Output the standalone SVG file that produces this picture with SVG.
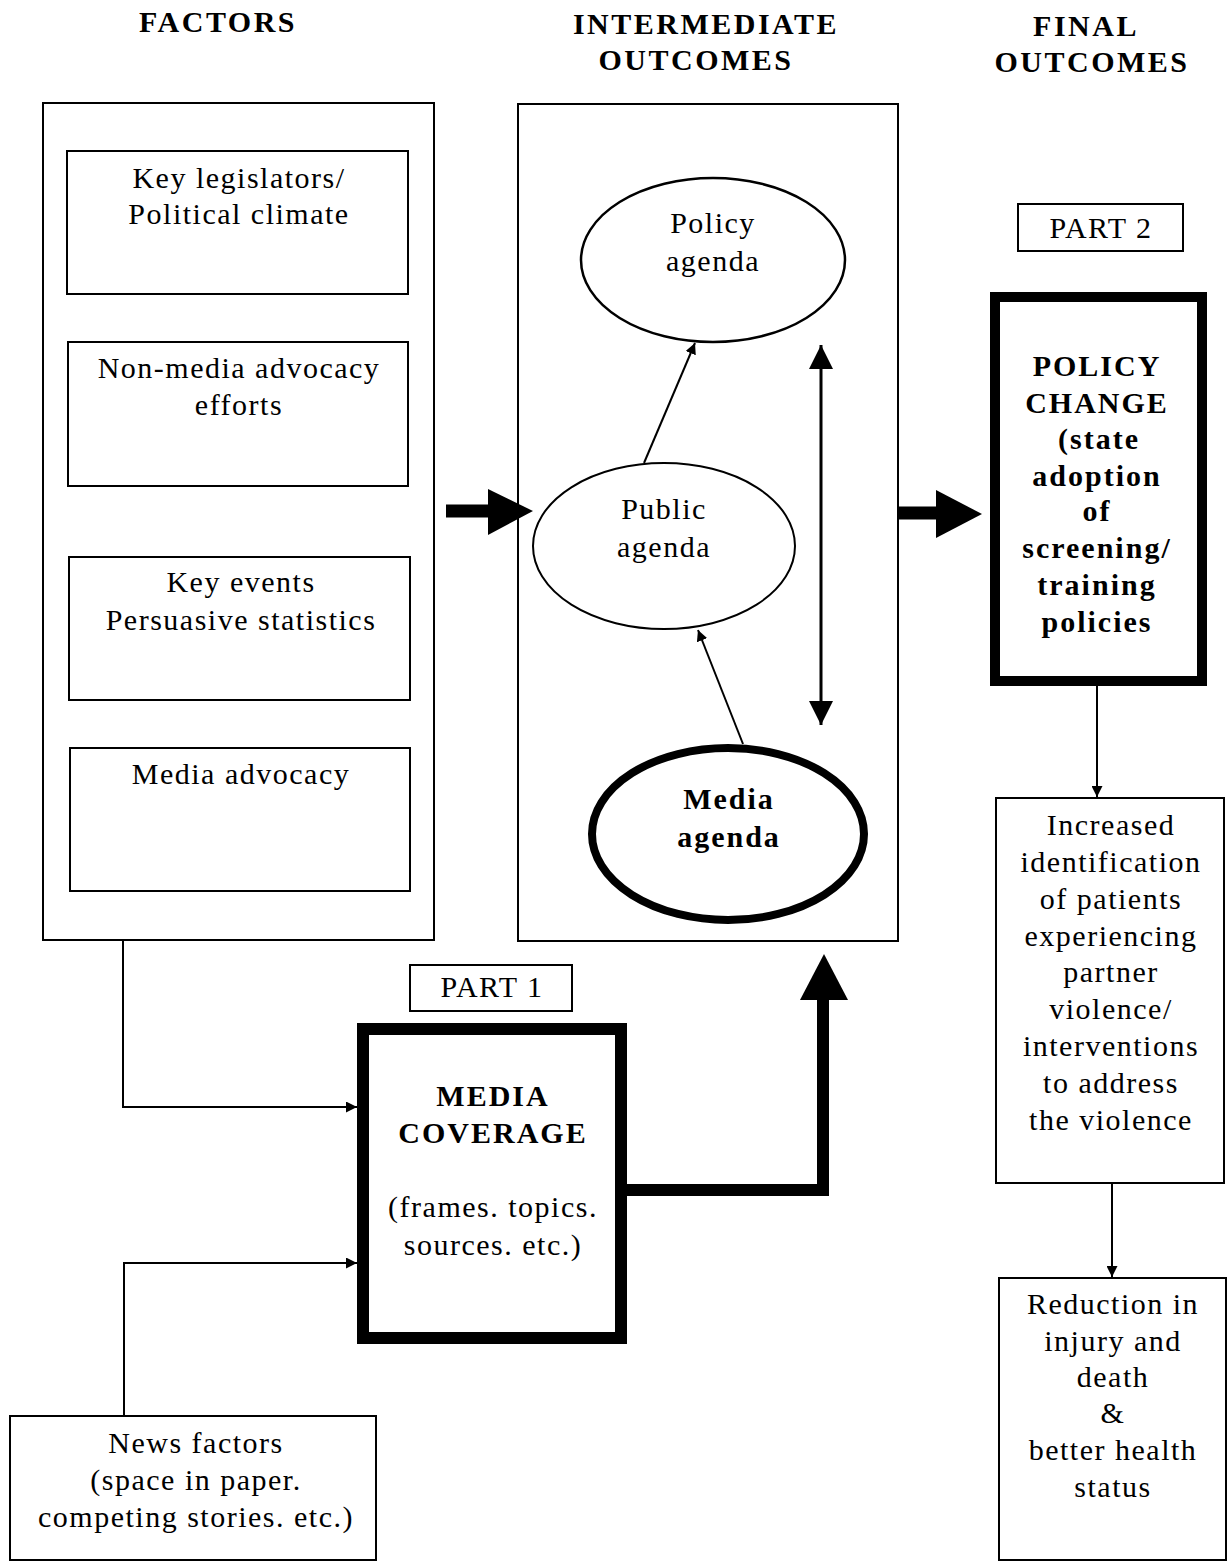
<svg xmlns="http://www.w3.org/2000/svg" width="1231" height="1562" viewBox="0 0 1231 1562">
<style>
text{font-family:"Liberation Serif","Times New Roman",serif;font-size:30px;letter-spacing:1.5px;fill:#000;text-anchor:middle}
.h{font-weight:bold;font-size:30px;letter-spacing:2.5px}
.b{font-weight:bold;letter-spacing:2px}
.box{fill:#fff;stroke:#000;stroke-width:2}
.thin{fill:none;stroke:#000;stroke-width:2}
.thick{fill:none;stroke:#000;stroke-width:12}
</style>
<defs>
<marker id="ah" viewBox="0 0 10 10" refX="10" refY="5" markerWidth="11" markerHeight="11" markerUnits="userSpaceOnUse" orient="auto">
<path d="M0,0 L10,5 L0,10 Z" fill="#000"/>
</marker>
<marker id="ahm" viewBox="0 0 10 10" refX="10" refY="5" markerWidth="24" markerHeight="24" markerUnits="userSpaceOnUse" orient="auto-start-reverse">
<path d="M0,0 L10,5 L0,10 Z" fill="#000"/>
</marker>
</defs>
<rect width="1231" height="1562" fill="#fff"/>
<g id="headers">
<text class="h" x="218" y="32">FACTORS</text>
<text class="h" x="706" y="34">INTERMEDIATE</text>
<text class="h" x="696" y="70">OUTCOMES</text>
<text class="h" x="1086" y="36">FINAL</text>
<text class="h" x="1092" y="72">OUTCOMES</text>
</g>
<g id="factors">
<rect class="box" x="43" y="103" width="391" height="837"/>
</g>
<g id="key-legislators">
<rect class="box" x="67" y="151" width="341" height="143"/>
<text x="239" y="188">Key legislators/</text>
<text x="239" y="224">Political climate</text>
</g>
<g id="non-media">
<rect class="box" x="68" y="342" width="340" height="144"/>
<text x="239" y="378">Non-media advocacy</text>
<text x="239" y="415">efforts</text>
</g>
<g id="key-events">
<rect class="box" x="69" y="557" width="341" height="143"/>
<text x="241" y="592">Key events</text>
<text x="241" y="630">Persuasive statistics</text>
</g>
<g id="media-advocacy">
<rect class="box" x="70" y="748" width="340" height="143"/>
<text x="241" y="784">Media advocacy</text>
</g>
<g id="intermediate">
<rect class="box" x="518" y="104" width="380" height="837"/>
</g>
<g id="policy-agenda">
<ellipse cx="713" cy="260" rx="132" ry="82" fill="#fff" stroke="#000" stroke-width="2.5"/>
<text x="713" y="233">Policy</text>
<text x="713" y="271">agenda</text>
</g>
<g id="public-agenda">
<ellipse cx="664" cy="546" rx="131" ry="83" fill="#fff" stroke="#000" stroke-width="2"/>
<text x="664" y="519">Public</text>
<text x="664" y="557">agenda</text>
</g>
<g id="media-agenda">
<ellipse cx="728" cy="834" rx="136" ry="86" fill="#fff" stroke="#000" stroke-width="8"/>
<text class="b" x="729" y="809">Media</text>
<text class="b" x="729" y="847">agenda</text>
</g>
<g id="part2">
<rect class="box" x="1018" y="204" width="165" height="47"/>
<text x="1101" y="238">PART 2</text>
</g>
<g id="policy-change">
<rect x="995" y="297" width="207" height="384" fill="#fff" stroke="#000" stroke-width="10"/>
<text class="b" x="1097" y="376">POLICY</text>
<text class="b" x="1097" y="413">CHANGE</text>
<text class="b" x="1099" y="449">(state</text>
<text class="b" x="1097" y="486">adoption</text>
<text class="b" x="1097" y="521">of</text>
<text class="b" x="1097" y="558">screening/</text>
<text class="b" x="1097" y="595">training</text>
<text class="b" x="1097" y="632">policies</text>
</g>
<g id="increased">
<rect class="box" x="996" y="798" width="228" height="385"/>
<text x="1111" y="835">Increased</text>
<text x="1111" y="872">identification</text>
<text x="1111" y="909">of patients</text>
<text x="1111" y="946">experiencing</text>
<text x="1111" y="982">partner</text>
<text x="1111" y="1019">violence/</text>
<text x="1111" y="1056">interventions</text>
<text x="1111" y="1093">to address</text>
<text x="1111" y="1130">the violence</text>
</g>
<g id="reduction">
<rect class="box" x="999" y="1278" width="227" height="282"/>
<text x="1113" y="1314">Reduction in</text>
<text x="1113" y="1351">injury and</text>
<text x="1113" y="1387">death</text>
<text x="1113" y="1423">&amp;</text>
<text x="1113" y="1460">better health</text>
<text x="1113" y="1497">status</text>
</g>
<g id="part1">
<rect class="box" x="410" y="965" width="162" height="46"/>
<text x="492" y="997">PART 1</text>
</g>
<g id="media-coverage">
<rect x="363" y="1029" width="258" height="309" fill="#fff" stroke="#000" stroke-width="12"/>
<text class="b" x="493" y="1106">MEDIA</text>
<text class="b" x="493" y="1143">COVERAGE</text>
<text x="493" y="1217">(frames. topics.</text>
<text x="493" y="1255">sources. etc.)</text>
</g>
<g id="news-factors">
<rect class="box" x="10" y="1416" width="366" height="144"/>
<text x="196" y="1453">News factors</text>
<text x="196" y="1490">(space in paper.</text>
<text x="196" y="1527">competing stories. etc.)</text>
</g>
<g id="connectors">
<path d="M446,511 H490" stroke="#000" stroke-width="13" fill="none"/>
<path d="M488,489 L533,511 L488,535 Z" fill="#000"/>
<path d="M898,513 H940" stroke="#000" stroke-width="13" fill="none"/>
<path d="M936,490 L982,514 L936,538 Z" fill="#000"/>
<path class="thin" d="M644,463 L695,343" marker-end="url(#ah)"/>
<path class="thin" d="M743,744 L698,630" marker-end="url(#ah)"/>
<path d="M821,345 V725" stroke="#000" stroke-width="3" fill="none" marker-start="url(#ahm)" marker-end="url(#ahm)"/>
<path class="thin" d="M1097,686 V797" marker-end="url(#ah)"/>
<path class="thin" d="M1112,1183 V1277" marker-end="url(#ah)"/>
<path class="thin" d="M123,940 V1107 H357" marker-end="url(#ah)"/>
<path class="thin" d="M124,1416 V1263 H357" marker-end="url(#ah)"/>
<path class="thick" d="M627,1190 H823 V1000" stroke-linejoin="miter"/>
<path d="M800,1000 L824,954 L848,1000 Z" fill="#000"/>
</g>
</svg>
